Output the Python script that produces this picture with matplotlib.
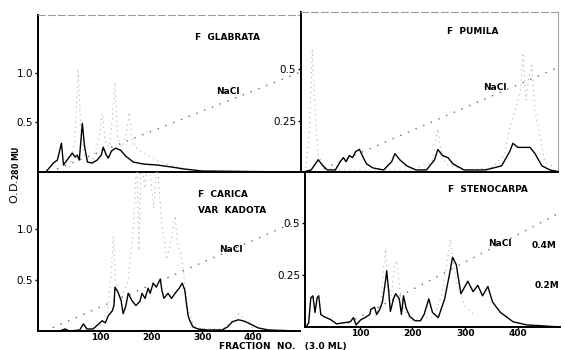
import matplotlib
matplotlib.use("Agg")
import matplotlib.pyplot as plt
import numpy as np

# --- F. GLABRATA (top left) ---
glab_f = [-5, 8, 16, 24, 28, 35, 45, 51, 55, 59, 65, 69, 75, 84, 94, 102, 106, 112, 116, 122,
          130, 140, 150, 165, 185, 212, 240, 265, 300, 480]
glab_od = [0.01, 0.09, 0.12, 0.29, 0.07, 0.12, 0.19, 0.15, 0.17, 0.12, 0.49, 0.27, 0.10, 0.09,
           0.12, 0.17, 0.25, 0.17, 0.14, 0.21, 0.24, 0.22, 0.16, 0.10, 0.08, 0.07, 0.05, 0.03,
           0.01, 0.0]
glab_dot_f = [40, 50, 57, 62, 70, 85, 98, 104, 110, 118, 124, 129, 134, 142, 150, 157, 163, 175,
              190, 210, 230, 250, 270]
glab_dot = [0.05, 0.30, 1.04, 0.40, 0.15, 0.10, 0.35, 0.59, 0.30, 0.25, 0.55, 0.90, 0.35, 0.25,
            0.35, 0.60, 0.30, 0.22, 0.18, 0.12, 0.08, 0.05, 0.03]
glab_nacl_f = [0, 490]
glab_nacl = [0.0, 1.0]

# --- F. PUMILA (top right) ---
pum_f = [0, 15, 28, 37, 45, 60, 69, 75, 80, 86, 92, 98, 105, 112, 118, 130, 150, 165, 171, 180,
         193, 210, 230, 245, 251, 260, 270, 279, 300, 340, 370, 385, 391, 400, 412, 423, 432,
         445, 460, 480]
pum_od = [0.0, 0.01, 0.06, 0.03, 0.01, 0.01, 0.05, 0.07, 0.05, 0.08, 0.07, 0.10, 0.11, 0.07,
          0.04, 0.02, 0.01, 0.05, 0.09, 0.06, 0.03, 0.01, 0.01, 0.06, 0.11, 0.08, 0.07, 0.04,
          0.01, 0.01, 0.03, 0.10, 0.14, 0.12, 0.12, 0.12, 0.09, 0.03, 0.01, 0.0]
pum_dot_f = [5, 12, 17, 22, 28, 40, 60, 100, 150, 200, 240, 247, 251, 256, 265, 300, 350, 375,
             385, 395, 405, 410, 415, 420, 426, 432, 440, 450, 470]
pum_dot = [0.02, 0.20, 0.60, 0.30, 0.08, 0.02, 0.01, 0.01, 0.01, 0.01, 0.05, 0.15, 0.21, 0.12,
           0.04, 0.01, 0.02, 0.08, 0.22, 0.30, 0.40, 0.58, 0.35, 0.45, 0.52, 0.30, 0.20, 0.05,
           0.02]
pum_nacl_f = [24, 475]
pum_nacl = [0.0, 0.51]

# --- F. CARICA var KADOTA (bottom left) ---
car_f = [-15, 20, 31, 40, 60, 67, 74, 86, 95, 104, 110, 116, 124, 127, 129, 135, 141, 145, 150,
         155, 162, 170, 178, 182, 188, 194, 198, 204, 210, 218, 221, 225, 233, 240, 247, 255,
         261, 266, 270, 273, 276, 282, 292, 310, 339, 350, 359, 371, 380, 390, 410, 430, 490]
car_od = [0.0, 0.0, 0.02, 0.0, 0.01, 0.07, 0.02, 0.02, 0.06, 0.10, 0.08, 0.15, 0.20, 0.25, 0.43,
          0.38, 0.30, 0.17, 0.24, 0.37, 0.30, 0.25, 0.29, 0.37, 0.32, 0.42, 0.37, 0.47, 0.43,
          0.51, 0.40, 0.32, 0.37, 0.32, 0.37, 0.42, 0.47, 0.40, 0.24, 0.14, 0.10, 0.04, 0.02,
          0.01, 0.01, 0.04, 0.09, 0.11, 0.10, 0.08, 0.03, 0.01, 0.0]
car_dot_f = [100, 115, 122, 126, 130, 140, 155, 165, 172, 176, 180, 188, 195, 205, 212, 220,
             230, 240, 247, 252, 258, 264, 272, 285, 300, 340, 360, 372, 385, 400]
car_dot = [0.05, 0.20, 0.60, 0.93, 0.50, 0.30, 0.50, 1.00, 1.70, 0.79, 1.70, 1.40, 1.70, 1.20,
           1.65, 1.10, 0.70, 0.90, 1.13, 0.85, 0.75, 0.56, 0.20, 0.05, 0.02, 0.02, 0.10, 0.17,
           0.10, 0.03]
car_nacl_f = [-8, 492]
car_nacl = [0.0, 1.09]

# --- F. STENOCARPA (bottom right) ---
sten_f = [-2, 3, 7, 11, 15, 19, 22, 26, 32, 45, 56, 69, 82, 88, 93, 102, 110, 119, 121, 128,
          132, 138, 143, 149, 151, 155, 158, 164, 168, 175, 179, 183, 188, 195, 205, 215, 222,
          231, 238, 249, 261, 270, 276, 283, 292, 305, 315, 324, 333, 343, 352, 367, 391, 417,
          450, 480]
sten_od = [0.0, 0.02, 0.14, 0.15, 0.07, 0.14, 0.15, 0.06, 0.05, 0.035, 0.015, 0.02, 0.025, 0.045,
           0.01, 0.035, 0.045, 0.06, 0.085, 0.095, 0.06, 0.085, 0.12, 0.225, 0.27, 0.17, 0.075,
           0.135, 0.16, 0.135, 0.06, 0.15, 0.09, 0.05, 0.03, 0.03, 0.06, 0.135, 0.07, 0.045,
           0.135, 0.25, 0.335, 0.30, 0.16, 0.22, 0.17, 0.20, 0.15, 0.195, 0.12, 0.07, 0.025,
           0.01, 0.005, 0.0]
sten_dot_f = [130, 140, 145, 149, 153, 160, 166, 170, 176, 185, 200, 240, 255, 265, 272, 278,
              285, 300, 320]
sten_dot = [0.05, 0.12, 0.28, 0.375, 0.20, 0.15, 0.30, 0.32, 0.18, 0.08, 0.03, 0.05, 0.15, 0.30,
            0.42, 0.30, 0.2, 0.1, 0.05]
sten_nacl_f = [63, 480]
sten_nacl = [0.0, 0.55]

x_ticks = [100, 200, 300, 400]

fig = plt.figure(figsize=(5.65, 3.5), dpi=100)
plt.rcParams['font.family'] = ['DejaVu Sans']

W, H = 565.0, 350.0
def box(x0, y0, x1, y1):
    return [x0 / W, 1 - y1 / H, (x1 - x0) / W, (y1 - y0) / H]

ax_tl = fig.add_axes(box(38, 15, 300, 172))
ax_tr = fig.add_axes(box(301, 12, 558, 172))
ax_bl = fig.add_axes(box(38, 172, 300, 331))
ax_br = fig.add_axes(box(305, 172, 560, 327))

panels = [
    (ax_tl, glab_f, glab_od, glab_dot_f, glab_dot, glab_nacl_f, glab_nacl, (-22, 492), 1.58, [0.5, 1.0], ['0.5', '1.0']),
    (ax_tr, pum_f, pum_od, pum_dot_f, pum_dot, pum_nacl_f, pum_nacl, (-4, 475), 0.78, [0.25, 0.5], ['0.25', '0.5']),
    (ax_bl, car_f, car_od, car_dot_f, car_dot, car_nacl_f, car_nacl, (-22, 492), 1.56, [0.5, 1.0], ['0.5', '1.0']),
    (ax_br, sten_f, sten_od, sten_dot_f, sten_dot, sten_nacl_f, sten_nacl, (-4, 480), 0.745, [0.25, 0.5], ['0.25', '0.5']),
]

for ax, f, od, df, dv, nf, nv, xl, ytop, yt, ytl in panels:
    # second assay, faint dotted peaks
    ax.plot(df, dv, color='#b0b0b0', lw=0.8, ls=(0, (1, 3.5)))
    # NaCl gradient
    ax.plot(nf, nv, color='#6a6a6a', lw=1.0, ls=(0, (1, 5)))
    # O.D. 280
    ax.plot(f, od, color='black', lw=1.0)
    ax.set_xlim(*xl)
    ax.set_ylim(0, ytop)
    ax.set_yticks(yt)
    ax.set_yticklabels(ytl)
    ax.tick_params(axis='y', direction='out', length=2.5, width=1.0, labelsize=7.5, pad=1)
    ax.tick_params(axis='x', direction='out', length=1.5, width=1.0, labelsize=6.5, pad=0)
    for s in ['left', 'bottom']:
        ax.spines[s].set_linewidth(1.4)
    ax.spines['right'].set_visible(False)
    ax.spines['top'].set_visible(False)
    ax.patch.set_alpha(0)

for ax in (ax_tl, ax_tr):
    ax.set_xticks([])
    ax.spines['top'].set_visible(True)
    ax.spines['top'].set_color('#999999')
    ax.spines['top'].set_linestyle((0, (6, 3)))
    ax.spines['top'].set_linewidth(0.8)
ax_tr.spines['right'].set_visible(True)
ax_tr.spines['right'].set_color('#aaaaaa')
ax_tr.spines['right'].set_linewidth(0.8)

for ax in (ax_bl, ax_br):
    ax.set_xticks(x_ticks)
    ax.set_xticklabels([str(t) for t in x_ticks], fontweight='bold')

def lab(ax, x, y, s, size=6.5):
    ax.text(x, y, s, fontsize=size, fontweight='bold', transform=ax.transAxes)

lab(ax_tl, 0.60, 0.84, 'F  GLABRATA')
lab(ax_tl, 0.68, 0.50, 'NaCl')
lab(ax_tr, 0.57, 0.86, 'F  PUMILA')
lab(ax_tr, 0.71, 0.51, 'NaCl')
lab(ax_bl, 0.61, 0.84, 'F  CARICA')
lab(ax_bl, 0.61, 0.74, 'VAR  KADOTA')
lab(ax_bl, 0.69, 0.50, 'NaCl')
lab(ax_br, 0.56, 0.87, 'F  STENOCARPA')
lab(ax_br, 0.72, 0.52, 'NaCl')
lab(ax_br, 0.89, 0.51, '0.4M')
lab(ax_br, 0.90, 0.25, '0.2M')

fig.text(0.014, 0.50, r'O.D.$_{\mathbf{280\ MU}}$', rotation=90, fontsize=8,
         va='center', ha='left')
fig.text(0.50, -0.004, 'FRACTION  NO.   (3.0 ML)', fontsize=6.5, fontweight='bold',
         ha='center', va='bottom')

fig.savefig('out.png', dpi=100)
